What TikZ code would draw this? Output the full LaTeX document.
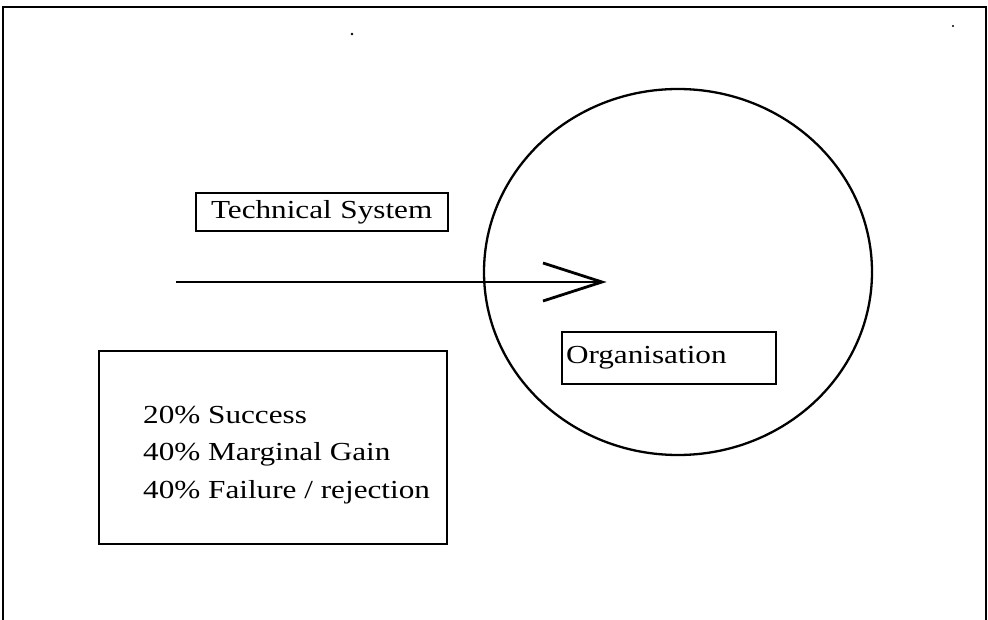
\documentclass[tikz,border=0pt]{standalone}
\usepackage{fontspec}
\setmainfont{Liberation Serif}[FakeStretch=1.2]
\usetikzlibrary{shapes.geometric,calc}

\tikzset{
  ink/.style={line width=1.9pt, black},
  labelbox/.style={draw, ink, inner ysep=0pt, align=left, anchor=center,
    font=\fontsize{26}{37.5}\selectfont},
  plaintext/.style={inner sep=0pt, align=left,
    font=\fontsize{26}{37.5}\selectfont},
}

\begin{document}
\begin{tikzpicture}[x=1pt, y=-1pt]
  % page extent
  \useasboundingbox (0,0) rectangle (988,620);
  \fill[white] (0,0) rectangle (988,620);

  % outer frame, open at the bottom
  \draw[ink, line width=2.2pt] (3,620) -- (3,7) -- (986,7) -- (986,620);

  % stray marks
  \fill (352,34) circle (1.4pt);
  \fill (953,26) circle (1.2pt);

  % the organisation
  \node[draw, ink, line width=2.3pt, ellipse, inner sep=0pt,
        minimum width=388pt, minimum height=366pt] (org) at (678,272) {};

  % labels
  \node[labelbox, minimum width=252pt, minimum height=38pt,
        text width=222pt, inner xsep=15pt] (tech) at (322,212) {Technical System};
  \node[labelbox, minimum width=214pt, minimum height=52pt,
        text width=206pt, inner xsep=4pt] (orglabel) at (669,358) {Organisation};

  % outcome figures
  \node[draw, ink, inner sep=0pt, minimum width=348pt, minimum height=193pt]
        (outcomes) at (273,447.5) {};
  \node[plaintext, anchor=base west] (outcometext) at (143,498)
        {20\% Success\\40\% Marginal Gain\\40\% Failure / rejection};

  % the technical system entering the organisation
  \coordinate (src) at (176,282);
  \coordinate (tip) at (602,282);
  \draw[ink] (src) -- (tip);
  \draw[ink, line width=2.8pt, line join=miter]
        ($(tip)+(-59,-19)$) -- (tip) -- ($(tip)+(-59,19)$);
\end{tikzpicture}
\end{document}
